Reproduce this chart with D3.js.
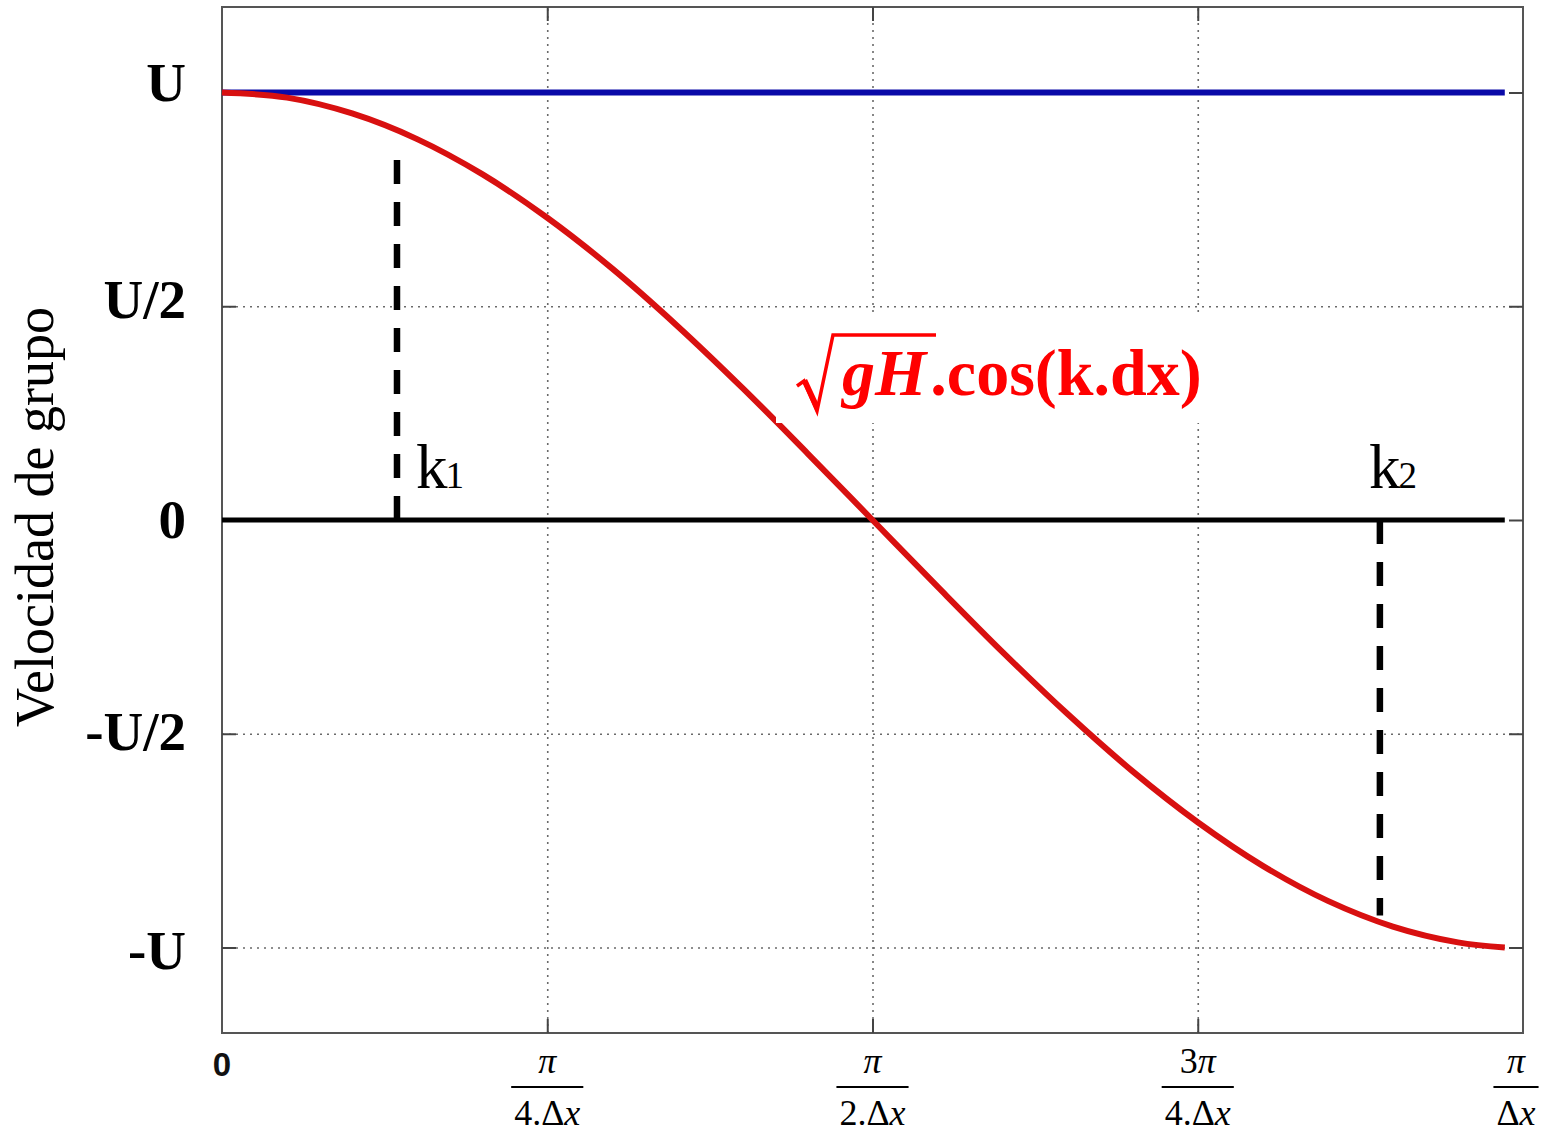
<!DOCTYPE html>
<html>
<head>
<meta charset="utf-8">
<script src="https://cdn.jsdelivr.net/npm/d3@7"></script>
<style>
  html, body { margin: 0; padding: 0; background: #fff; }
  svg { display: block; }
</style>
</head>
<body>
<svg id="chart" width="1544" height="1132"></svg>
<script>
// Wavenumber k in units of π/Δx; group velocity in units of U.
const kValues = [0, 0.05, 0.10, 0.15, 0.20, 0.25, 0.30, 0.35, 0.40, 0.45, 0.50,
                 0.55, 0.60, 0.65, 0.70, 0.75, 0.80, 0.85, 0.90, 0.95, 0.986];
const discreteVelocity = [1.000, 0.988, 0.951, 0.891, 0.809, 0.707, 0.588, 0.454, 0.309, 0.156, 0.000,
                          -0.156, -0.309, -0.454, -0.588, -0.707, -0.809, -0.891, -0.951, -0.988, -1.000];
const exactVelocity = [1, 1];          // continuous case: constant U
const exactK = [0, 0.986];
const zeroLine = [0, 0];

// Marked wavenumbers and the extent of their dashed guides.
const markerK = [0.1345, 0.890];
const markerTop = [0.842, 0.0];
const markerBottom = [0.0, -0.925];
const markerNames = ["k", "k"];
const markerSubs = ["1", "2"];

// Axis ticks.
const yTickValues = [-1, -0.5, 0, 0.5, 1];
const yTickLabels = ["-U", "-U/2", "0", "U/2", "U"];
const xTickValues = [0, 0.25, 0.5, 0.75, 1];
const xTickNumerators = ["0", "π", "π", "3π", "π"];
const xTickDenominators = ["", "4.Δx", "2.Δx", "4.Δx", "Δx"];

const yTitle = "Velocidad de grupo";

const svg = d3.select("#chart");
const plotLeft = 222, plotRight = 1523, plotTop = 7, plotBottom = 1033;

const x = d3.scaleLinear().domain([0, 1]).range([plotLeft, plotRight]);
const y = d3.scaleLinear().domain([-1.2, 1.2]).range([plotBottom, plotTop]);

// Dotted grid
const grid = svg.append("g");
grid.append("g")
  .attr("transform", `translate(0,${plotBottom})`)
  .call(d3.axisBottom(x).tickValues([0.25, 0.5, 0.75]).tickSize(-(plotBottom - plotTop)).tickFormat(""))
  .call(g => g.select(".domain").remove())
  .call(g => g.selectAll("line").attr("stroke", "#6a6a6a").attr("stroke-width", 1.6).attr("stroke-dasharray", "2,5"));
grid.append("g")
  .attr("transform", `translate(${plotLeft},0)`)
  .call(d3.axisLeft(y).tickValues([-1, -0.5, 0.5]).tickSize(-(plotRight - plotLeft)).tickFormat(""))
  .call(g => g.select(".domain").remove())
  .call(g => g.selectAll("line").attr("stroke", "#6a6a6a").attr("stroke-width", 1.6).attr("stroke-dasharray", "2,5"));

// Frame and inner tick marks
svg.append("rect")
  .attr("x", plotLeft).attr("y", plotTop).attr("width", plotRight - plotLeft).attr("height", plotBottom - plotTop)
  .attr("fill", "none").attr("stroke", "#555").attr("stroke-width", 2);

const tickStyle = g => {
  g.select(".domain").remove();
  g.selectAll("line").attr("stroke", "#444").attr("stroke-width", 2);
  g.selectAll("text").remove();
};
svg.append("g").attr("transform", `translate(${plotLeft},0)`)
  .call(d3.axisLeft(y).tickValues(yTickValues).tickSize(-14)).call(tickStyle);
svg.append("g").attr("transform", `translate(${plotRight},0)`)
  .call(d3.axisRight(y).tickValues(yTickValues).tickSize(-14)).call(tickStyle);
svg.append("g").attr("transform", `translate(0,${plotBottom})`)
  .call(d3.axisBottom(x).tickValues([0.25, 0.5, 0.75]).tickSize(-14)).call(tickStyle);
svg.append("g").attr("transform", `translate(0,${plotTop})`)
  .call(d3.axisTop(x).tickValues([0.25, 0.5, 0.75]).tickSize(-14)).call(tickStyle);

// Curves
const line = d3.line().x(d => x(d[0])).y(d => y(d[1]));

svg.append("path")
  .datum(exactK.map((k, i) => [k, exactVelocity[i]]))
  .attr("d", line).attr("fill", "none").attr("stroke", "#0a0aa8").attr("stroke-width", 6);

svg.append("path")
  .datum(exactK.map((k, i) => [k, zeroLine[i]]))
  .attr("d", line).attr("fill", "none").attr("stroke", "#000").attr("stroke-width", 5);

svg.append("path")
  .datum(kValues.map((k, i) => [k, discreteVelocity[i]]))
  .attr("d", line.curve(d3.curveCatmullRom))
  .attr("fill", "none").attr("stroke", "#d81010").attr("stroke-width", 6);

// Dashed markers at k1, k2
markerK.forEach((k, i) => {
  svg.append("line")
    .attr("x1", x(k)).attr("x2", x(k))
    .attr("y1", y(markerTop[i])).attr("y2", y(markerBottom[i]))
    .attr("stroke", "#000").attr("stroke-width", 6.5)
    .attr("stroke-dasharray", "24,18");
  const t = svg.append("text")
    .attr("x", x(k) + (i === 0 ? 19 : -11)).attr("y", 488)
    .attr("font-family", "Liberation Serif, Times New Roman, serif")
    .attr("fill", "#000");
  t.append("tspan").attr("font-size", 63).text(markerNames[i]);
  t.append("tspan").attr("font-size", 37).attr("dx", -2).text(markerSubs[i]);
});

// Formula label with its white backing
const fx = 797, fy = 395;
svg.append("rect").attr("x", 776).attr("y", 316).attr("width", 434).attr("height", 107).attr("fill", "#fff");
svg.append("path")
  .attr("d", `M${fx},${fy - 9} L${fx + 7},${fy - 14} L${fx + 20},${fy + 16} L${fx + 36},${fy - 60} L${fx + 139},${fy - 60}`)
  .attr("fill", "none").attr("stroke", "#ff0000").attr("stroke-width", 3.5).attr("stroke-linejoin", "miter");
svg.append("path")
  .attr("d", `M${fx + 5},${fy - 13} L${fx + 10},${fy - 16} L${fx + 22},${fy + 10} L${fx + 19},${fy + 17} Z`)
  .attr("fill", "#ff0000");
const ft = svg.append("text")
  .attr("x", fx + 45).attr("y", fy)
  .attr("font-family", "Liberation Serif, Times New Roman, serif")
  .attr("font-size", 66).attr("font-weight", "bold").attr("fill", "#ff0000");
ft.append("tspan").attr("font-style", "italic").text("gH");
ft.append("tspan").attr("dx", 4).text(".cos(k.dx)");

// Y tick labels
const labelDrop = [21, 16, 18, 12, 8];
svg.append("g").selectAll("text")
  .data(yTickValues)
  .join("text")
  .attr("x", 186).attr("y", (d, i) => y(d) + labelDrop[i])
  .attr("text-anchor", "end")
  .attr("font-family", "Liberation Serif, Times New Roman, serif")
  .attr("font-size", 55).attr("font-weight", "bold").attr("fill", "#000")
  .text((d, i) => yTickLabels[i]);

// X tick labels (fractions)
xTickValues.forEach((v, i) => {
  const cx = Math.min(x(v), 1516);
  if (xTickDenominators[i] === "") {
    svg.append("text")
      .attr("x", x(v)).attr("y", 1076)
      .attr("text-anchor", "middle")
      .attr("font-family", "Liberation Sans, Arial, sans-serif")
      .attr("font-size", 33).attr("font-weight", "bold").attr("fill", "#111")
      .text(xTickNumerators[i]);
    return;
  }
  const num = svg.append("text")
    .attr("x", cx).attr("y", 1073)
    .attr("text-anchor", "middle")
    .attr("font-family", "Liberation Serif, Times New Roman, serif")
    .attr("font-size", 36).attr("fill", "#000");
  const n = xTickNumerators[i];
  if (n.length > 1) {
    num.append("tspan").text(n.slice(0, -1));
    num.append("tspan").attr("font-style", "italic").text(n.slice(-1));
  } else {
    num.append("tspan").attr("font-style", "italic").text(n);
  }
  const den = svg.append("text")
    .attr("x", cx).attr("y", 1125)
    .attr("text-anchor", "middle")
    .attr("font-family", "Liberation Serif, Times New Roman, serif")
    .attr("font-size", 36).attr("fill", "#000");
  const dd = xTickDenominators[i];
  den.append("tspan").text(dd.slice(0, -1));
  den.append("tspan").attr("font-style", "italic").text(dd.slice(-1));
  const w = den.node().getComputedTextLength();
  svg.append("line")
    .attr("x1", cx - w / 2 - 3).attr("x2", cx + w / 2 + 3)
    .attr("y1", 1087).attr("y2", 1087)
    .attr("stroke", "#000").attr("stroke-width", 2);
});

// Y axis title
svg.append("text")
  .attr("transform", `translate(53,517) rotate(-90)`)
  .attr("text-anchor", "middle")
  .attr("font-family", "Liberation Serif, Times New Roman, serif")
  .attr("font-size", 54).attr("fill", "#000")
  .text(yTitle);
</script>
</body>
</html>
